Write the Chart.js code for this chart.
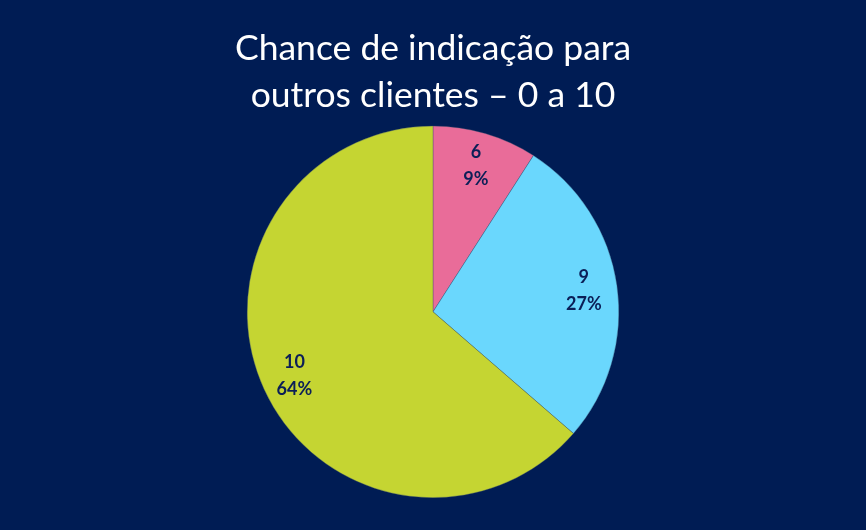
<!DOCTYPE html>
<html>
<head>
<meta charset="utf-8">
<script src="https://cdn.jsdelivr.net/npm/chart.js@4"></script>
<style>
html,body{margin:0;padding:0;background:#001c54;}
#wrap{width:866px;height:530px;}
</style>
</head>
<body>
<div id="wrap"><canvas id="c" width="866" height="530"></canvas></div>
<script>
const categories = ['6', '9', '10'];
const counts = [1, 3, 7];
const percentLabels = ['9%', '27%', '64%'];
const colors = ['#e96c99', '#6ad7fd', '#c5d532'];
const titleLines = ['Chance de indicação para', 'outros clientes – 0 a 10'];

const sliceLabels = {
  id: 'sliceLabels',
  afterDatasetsDraw(chart) {
    const ctx = chart.ctx;
    const meta = chart.getDatasetMeta(0);
    ctx.save();
    ctx.fillStyle = '#0b1f57';
    ctx.font = 'bold 18px Lato, "DejaVu Sans", sans-serif';
    ctx.textAlign = 'center';
    ctx.textBaseline = 'middle';
    meta.data.forEach((arc, i) => {
      const p = arc.getProps(['x','y','startAngle','endAngle','outerRadius'], true);
      const mid = (p.startAngle + p.endAngle) / 2;
      const r = p.outerRadius * 0.82;
      const cx = p.x + Math.cos(mid) * r;
      const cy = p.y + Math.sin(mid) * r;
      ctx.fillText(categories[i], cx, cy - 13);
      ctx.fillText(percentLabels[i], cx, cy + 14);
    });
    ctx.restore();
  }
};

new Chart(document.getElementById('c'), {
  type: 'pie',
  data: {
    labels: categories,
    datasets: [{
      data: counts,
      backgroundColor: colors,
      borderColor: 'rgba(60,80,110,0.6)',
      borderWidth: 0.6
    }]
  },
  options: {
    responsive: false,
    animation: false,
    layout: { padding: { top: 0, bottom: 32, left: 0, right: 0 } },
    plugins: {
      legend: { display: false },
      tooltip: { enabled: false },
      title: {
        display: true,
        text: titleLines,
        color: '#ffffff',
        font: { family: 'Lato, "Open Sans", sans-serif', size: 35.5, weight: 'normal', lineHeight: 1.32 },
        padding: { top: 25, bottom: 7 }
      }
    }
  },
  plugins: [sliceLabels]
});
</script>
</body>
</html>
